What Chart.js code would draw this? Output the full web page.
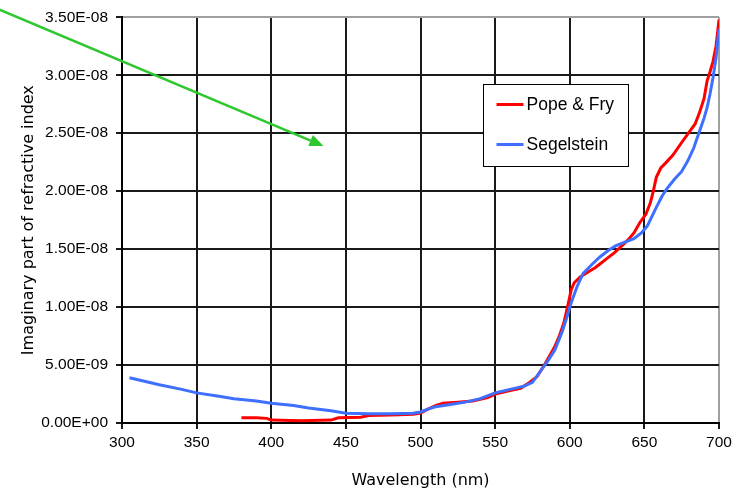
<!DOCTYPE html>
<html>
<head>
<meta charset="utf-8">
<script src="https://cdn.jsdelivr.net/npm/chart.js@4.4.1/dist/chart.umd.min.js"></script>
<style>
  body { margin: 0; background: #fff; }
  canvas { display: block; }
</style>
</head>
<body>
<canvas id="chart" width="736" height="490"></canvas>
<script>
// values in units of 1e-9
const popeWavelength = [380, 390, 397, 400, 420, 440, 445, 460, 465, 480, 495, 500, 505, 510, 515, 525, 535, 545, 550, 560, 567, 572, 578, 583, 587, 590, 593, 596, 599, 601, 603, 607, 612, 617, 620, 625, 630, 635, 639, 643, 647, 651, 654, 656, 658, 661, 664, 669, 675, 680, 684, 687, 690, 692, 694, 696, 698, 700];
const popeValues = [0.45, 0.45, 0.4, 0.25, 0.2, 0.25, 0.45, 0.5, 0.65, 0.7, 0.75, 0.85, 1.2, 1.5, 1.7, 1.8, 1.9, 2.2, 2.5, 2.8, 3.0, 3.4, 4.0, 5.0, 5.9, 6.6, 7.5, 8.6, 10.3, 11.5, 12.1, 12.6, 13.0, 13.4, 13.7, 14.2, 14.7, 15.3, 15.8, 16.4, 17.3, 18.0, 19.0, 20.0, 21.2, 22.0, 22.4, 23.1, 24.2, 25.1, 25.8, 26.8, 28.0, 29.5, 30.3, 31.2, 32.5, 34.8];

const segelWavelength = [305, 315, 325, 340, 350, 365, 375, 390, 400, 415, 425, 440, 450, 465, 480, 495, 500, 505, 510, 520, 530, 540, 550, 560, 570, 575, 580, 585, 590, 595, 598, 601, 605, 609, 615, 620, 626, 631, 637, 643, 648, 652, 655, 658, 662, 665, 670, 675, 679, 683, 687, 690, 692, 694, 696, 698, 700];
const segelValues = [3.9, 3.6, 3.3, 2.9, 2.6, 2.3, 2.1, 1.9, 1.7, 1.5, 1.3, 1.05, 0.85, 0.8, 0.8, 0.85, 0.95, 1.2, 1.4, 1.6, 1.8, 2.1, 2.6, 2.9, 3.2, 3.5, 4.4, 5.3, 6.3, 7.9, 9.1, 10.4, 11.8, 12.9, 13.7, 14.3, 14.9, 15.3, 15.6, 15.9, 16.4, 17.0, 17.8, 18.6, 19.6, 20.2, 21.0, 21.7, 22.6, 23.7, 25.2, 26.3, 27.2, 28.4, 29.8, 31.5, 34.0];

const seriesNames = ['Pope & Fry', 'Segelstein'];
const seriesColors = ['#ff0000', '#3f6fff'];

// annotation arrow, in axis units (wavelength, 1e-9)
const arrowFrom = [218, 35.65];
const arrowTo = [435, 23.9];

const toPoints = (xs, ys) => xs.map((x, i) => ({ x: x, y: ys[i] }));

const formatExp = (v) => {
  const s = (v * 1e-9).toExponential(2);
  const [mant, exp] = s.split('e');
  const sign = exp[0] === '-' ? '-' : '+';
  const digits = exp.replace(/[+-]/, '').padStart(2, '0');
  return `${mant}E${sign}${digits}`;
};

const boxLegend = {
  id: 'boxLegend',
  afterDraw(chart) {
    const ctx = chart.ctx;
    const a = chart.chartArea;
    const w = a.right - a.left;
    const h = a.bottom - a.top;
    const left = Math.round(a.left + 0.605 * w) + 0.5;
    const top = Math.round(a.top + 0.164 * h) + 0.5;
    const bw = 145, bh = 82;
    ctx.save();
    ctx.fillStyle = '#fff';
    ctx.fillRect(left, top, bw, bh);
    ctx.strokeStyle = '#000';
    ctx.lineWidth = 1;
    ctx.strokeRect(left, top, bw, bh);
    ctx.font = '17.5px "Liberation Sans", Arial, sans-serif';
    ctx.textBaseline = 'middle';
    chart.data.datasets.forEach((ds, i) => {
      const y = top + 20 + i * 40;
      ctx.strokeStyle = ds.borderColor;
      ctx.lineWidth = 3;
      ctx.beginPath();
      ctx.moveTo(left + 13, y);
      ctx.lineTo(left + 40, y);
      ctx.stroke();
      ctx.fillStyle = '#000';
      ctx.fillText(ds.label, left + 43, y + 1);
    });
    ctx.restore();
  }
};

const arrow = {
  id: 'arrow',
  afterDraw(chart) {
    const ctx = chart.ctx;
    const xs = chart.scales.x, ys = chart.scales.y;
    const x0 = xs.getPixelForValue(arrowFrom[0]), y0 = ys.getPixelForValue(arrowFrom[1]);
    const x1 = xs.getPixelForValue(arrowTo[0]), y1 = ys.getPixelForValue(arrowTo[1]);
    const ang = Math.atan2(y1 - y0, x1 - x0);
    const hl = 14, hw = 6;
    ctx.save();
    ctx.strokeStyle = '#2ec82e';
    ctx.fillStyle = '#2ec82e';
    ctx.lineWidth = 2.5;
    ctx.beginPath();
    ctx.moveTo(x0, y0);
    ctx.lineTo(x1 - hl * Math.cos(ang), y1 - hl * Math.sin(ang));
    ctx.stroke();
    ctx.beginPath();
    ctx.moveTo(x1, y1);
    ctx.lineTo(x1 - hl * Math.cos(ang) + hw * Math.sin(ang), y1 - hl * Math.sin(ang) - hw * Math.cos(ang));
    ctx.lineTo(x1 - hl * Math.cos(ang) - hw * Math.sin(ang), y1 - hl * Math.sin(ang) + hw * Math.cos(ang));
    ctx.closePath();
    ctx.fill();
    ctx.restore();
  }
};

const tickFont = { family: '"Liberation Sans", Arial, sans-serif', size: 15.5 };
const titleFont = { family: '"DejaVu Sans", sans-serif', size: 16 };

new Chart('chart', {
  type: 'line',
  data: {
    datasets: [
      {
        label: seriesNames[0],
        data: toPoints(popeWavelength, popeValues),
        borderColor: seriesColors[0],
        borderWidth: 3,
        pointRadius: 0,
        tension: 0,
        order: 2,
      },
      {
        label: seriesNames[1],
        data: toPoints(segelWavelength, segelValues),
        borderColor: seriesColors[1],
        borderWidth: 3,
        pointRadius: 0,
        tension: 0,
        order: 1,
      },
    ],
  },
  options: {
    responsive: false,
    animation: false,
    layout: { padding: { top: 16, right: 17, left: 0, bottom: 0 } },
    plugins: {
      legend: { display: false },
      tooltip: { enabled: false },
    },
    scales: {
      x: {
        type: 'linear',
        min: 300,
        max: 700,
        afterFit: (scale) => { scale.height = 67; },
        ticks: { stepSize: 50, color: '#000', font: tickFont, padding: 4, maxRotation: 0 },
        grid: {
          color: (c) => (c.tick && c.tick.value === 700 ? '#a0a0a0' : '#1a1a1a'),
          tickColor: '#1a1a1a',
          lineWidth: 2,
          tickLength: 6,
        },
        border: { color: '#000', width: 2 },
        title: { display: true, text: 'Wavelength (nm)', color: '#000', font: titleFont, padding: { top: 17, bottom: 0 } },
      },
      y: {
        type: 'linear',
        min: 0,
        max: 35,
        afterFit: (scale) => { scale.width = 122; },
        ticks: { stepSize: 5, color: '#000', font: tickFont, padding: 8, callback: (v) => formatExp(v) },
        grid: {
          color: (c) => (c.tick && c.tick.value === 35 ? '#a0a0a0' : '#1a1a1a'),
          tickColor: '#1a1a1a',
          lineWidth: 2,
          tickLength: 6,
        },
        border: { color: '#000', width: 2 },
        title: { display: true, text: 'Imaginary part of refractive index', color: '#000', font: titleFont, padding: { top: 19, bottom: 0 } },
      },
    },
  },
  plugins: [boxLegend, arrow],
});
</script>
</body>
</html>
